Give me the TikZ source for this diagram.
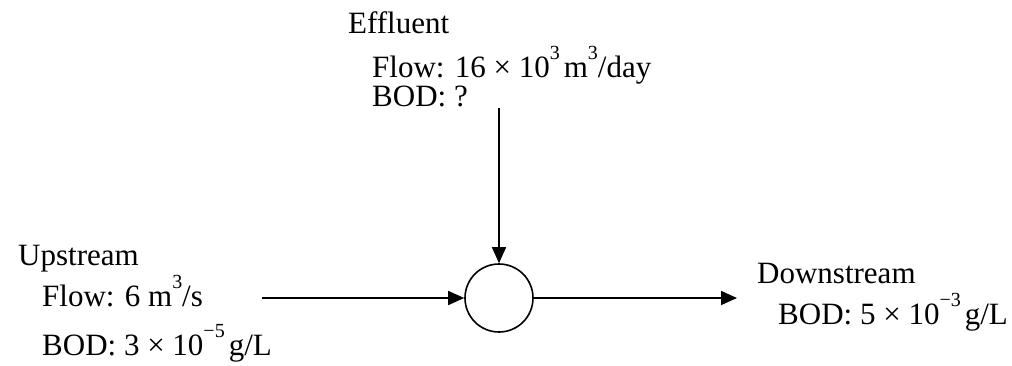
\documentclass[tikz,border=0pt]{standalone}
\usepackage{fontspec}
\setmainfont{Liberation Serif}
\usetikzlibrary{arrows.meta}
\newcommand{\sps}[1]{\raisebox{0.55em}{\fontsize{20}{20}\selectfont #1}\kern4pt}
\tikzset{
  lbl/.style={anchor=base west, inner sep=0pt, font=\fontsize{31}{36}\selectfont},
  flow/.style={line width=1.6pt, -{Triangle[length=16pt,width=14pt]}},
}
\begin{document}
\begin{tikzpicture}[x=1pt,y=-1pt]
\useasboundingbox (0,0) rectangle (1012,365);
% texts
\node[lbl] (eff) at (348,33) {Effluent};
\node[lbl] (effflow) at (372,77) {Flow: 16 × 10\sps{3}m\sps{3}\kern-4pt/day};
\node[lbl] (effbod) at (372,106) {BOD: ?};
\node[lbl] (up) at (18,265) {Upstream};
\node[lbl] (upflow) at (42,306) {Flow: 6 m\sps{3}\kern-4pt/s};
\node[lbl] (upbod) at (42,355) {BOD: 3 × 10\sps{−5}g/L};
\node[lbl] (down) at (757,283) {Downstream};
\node[lbl] (downbod) at (778,324) {BOD: 5 × 10\sps{−3}g/L};
% mixing point
\node[draw, circle, line width=1.6pt, minimum size=68pt, inner sep=0pt] (mix) at (499,298) {};
\coordinate (effin) at (499,108);
\coordinate (upin) at (262,298);
\coordinate (downout) at (737,298);
\draw[flow] (effin) -- (mix.north);
\draw[flow] (upin) -- (mix.west);
\draw[flow] (mix.east) -- (downout);
\end{tikzpicture}
\end{document}
